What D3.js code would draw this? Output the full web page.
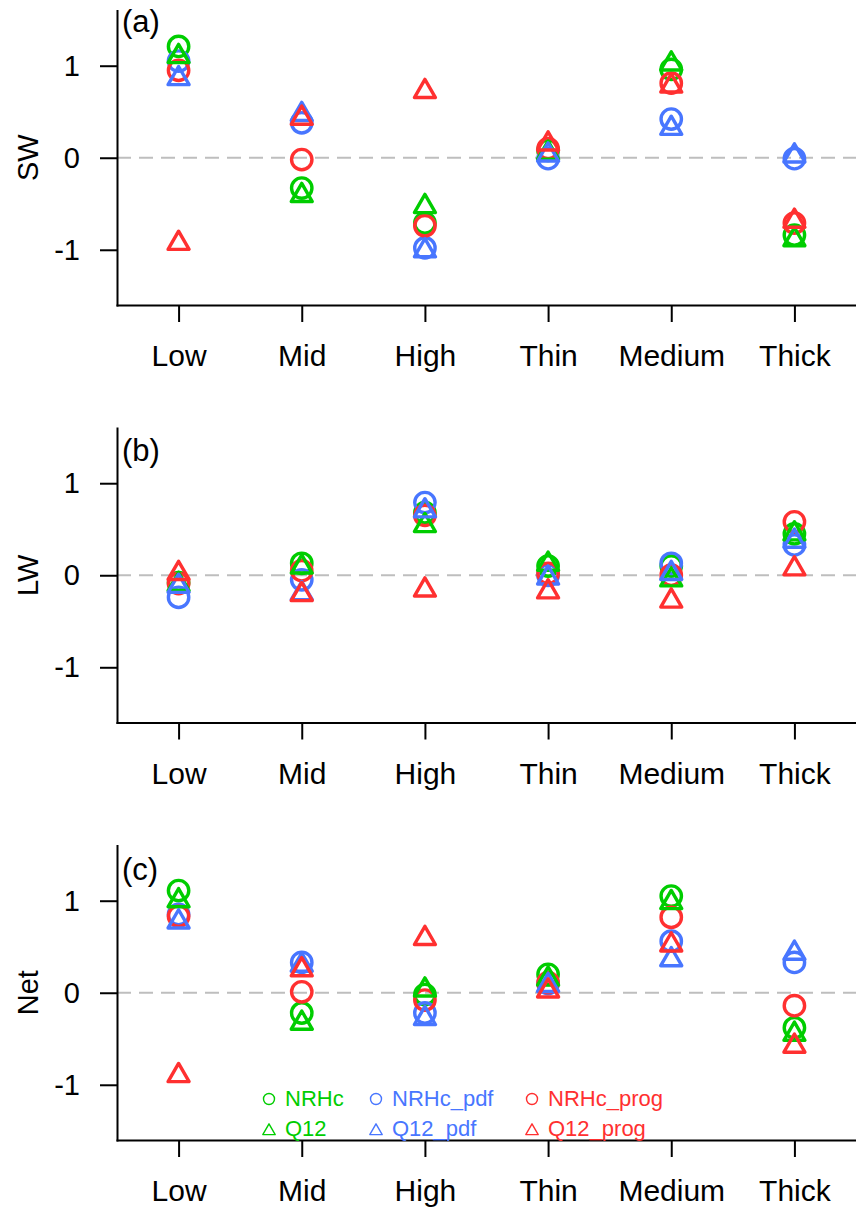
<!DOCTYPE html>
<html>
<head>
<meta charset="utf-8">
<script src="https://cdn.jsdelivr.net/npm/d3@7/dist/d3.min.js"></script>
<style>
  body { margin: 0; background: #fff; }
  svg { display: block; font-family: "Liberation Sans", Arial, Helvetica, sans-serif; }
</style>
</head>
<body>
<svg id="chart" width="856" height="1208"></svg>
<script>
// categories on x
var categories = ["Low", "Mid", "High", "Thin", "Medium", "Thick"];
var yTicks = [-1, 0, 1];
var panelNames = ["SW", "LW", "Net"];
var panelLetters = ["(a)", "(b)", "(c)"];

var seriesNames = ["NRHc", "Q12", "NRHc_pdf", "Q12_pdf", "NRHc_prog", "Q12_prog"];
var seriesColors = ["#00cd00", "#00cd00", "#4876ff", "#4876ff", "#ff3030", "#ff3030"];
var seriesShapes = ["circle", "triangle", "circle", "triangle", "circle", "triangle"];

// SW
var swNRHc      = [1.21, -0.33, -0.71, 0.08, 0.96, -0.84];
var swQ12       = [1.10, -0.41, -0.53, 0.05, 1.02, -0.89];
var swNRHcPdf   = [1.05, 0.38, -0.98, -0.01, 0.42, -0.01];
var swQ12Pdf    = [0.86, 0.47, -1.01, 0.03, 0.32, 0.02];
var swNRHcProg  = [0.95, -0.02, -0.74, 0.10, 0.81, -0.71];
var swQ12Prog   = [-0.93, 0.43, 0.72, 0.15, 0.78, -0.69];
// LW
var lwNRHc      = [-0.08, 0.13, 0.68, 0.10, 0.10, 0.45];
var lwQ12       = [-0.10, 0.09, 0.54, 0.12, -0.05, 0.45];
var lwNRHcPdf   = [-0.24, -0.05, 0.79, 0.00, 0.13, 0.33];
var lwQ12Pdf    = [-0.12, -0.20, 0.70, -0.03, 0.02, 0.37];
var lwNRHcProg  = [-0.09, 0.05, 0.65, 0.02, 0.00, 0.58];
var lwQ12Prog   = [0.02, -0.21, -0.16, -0.18, -0.28, 0.07];
// Net
var netNRHc     = [1.11, -0.22, -0.02, 0.20, 1.05, -0.38];
var netQ12      = [1.00, -0.33, 0.03, 0.15, 0.98, -0.45];
var netNRHcPdf  = [0.85, 0.33, -0.22, 0.10, 0.56, 0.33];
var netQ12Pdf   = [0.77, 0.30, -0.28, 0.08, 0.36, 0.43];
var netNRHcProg = [0.83, 0.01, -0.08, 0.11, 0.82, -0.14];
var netQ12Prog  = [-0.90, 0.25, 0.59, 0.02, 0.52, -0.58];

var panelData = [
  [swNRHc, swQ12, swNRHcPdf, swQ12Pdf, swNRHcProg, swQ12Prog],
  [lwNRHc, lwQ12, lwNRHcPdf, lwQ12Pdf, lwNRHcProg, lwQ12Prog],
  [netNRHc, netQ12, netNRHcPdf, netQ12Pdf, netNRHcProg, netQ12Prog]
];

var svg = d3.select("#chart");
var left = 117, right = 856;
var panelTops = [10.5, 428, 845.5];
var panelH = 294.5;
var labelBase = [31.5, 461, 880];

var x = d3.scaleLinear().domain([0.5, 6.5]).range([left, right]);

function triPath(a){
	// centroid at origin, half width a
	var h = a * Math.sqrt(3);
	return "M0," + (-2*h/3) + "L" + a + "," + (h/3) + "L" + (-a) + "," + (h/3) + "Z";
}

function drawMark(g, shape, cx, cy, color, size, sw){
	if(shape == "circle"){
		g.append("circle").attr("cx", cx).attr("cy", cy).attr("r", size)
			.style("fill", "none").style("stroke", color).style("stroke-width", sw);
	}
	else{
		g.append("path").attr("d", triPath(size))
			.attr("transform", "translate(" + cx + "," + cy + ")")
			.style("fill", "none").style("stroke", color).style("stroke-width", sw)
			.style("stroke-linejoin", "round");
	}
}

// circles first, then triangles
var drawOrder = [0, 2, 4, 1, 3, 5];

panelData.forEach(function(series, p){
	var top = panelTops[p];
	var y = d3.scaleLinear().domain([-1.6, 1.6]).range([top + panelH, top]);
	var g = svg.append("g");

	// zero line
	g.append("line")
		.attr("x1", left).attr("x2", right)
		.attr("y1", y(0)).attr("y2", y(0))
		.style("stroke", "#bebebe").style("stroke-width", 2)
		.style("stroke-dasharray", "14,8");

	var xAxis = d3.axisBottom(x)
		.tickValues([1, 2, 3, 4, 5, 6])
		.tickFormat(function(d){ return categories[d-1]; })
		.tickSize(17).tickSizeOuter(0).tickPadding(23);
	var gx = g.append("g").attr("transform", "translate(0," + (top + panelH) + ")").call(xAxis);
	gx.selectAll("text").style("font-size", "30px").style("fill", "#000");

	var yAxis = d3.axisLeft(y)
		.tickValues(yTicks)
		.tickFormat(function(d){ return String(d); })
		.tickSize(17).tickSizeOuter(0).tickPadding(20);
	var gy = g.append("g").attr("transform", "translate(" + left + ",0)").call(yAxis);
	gy.selectAll("text").style("font-size", "29px").style("fill", "#000");

	[gx, gy].forEach(function(a){
		a.selectAll("path, line").style("stroke", "#000").style("stroke-width", 2);
		a.select(".domain").style("stroke-linecap", "square");
	});

	g.append("text")
		.attr("transform", "translate(38," + y(0) + ") rotate(-90)")
		.attr("text-anchor", "middle")
		.style("font-size", "29px")
		.text(panelNames[p]);

	g.append("text")
		.attr("x", 122).attr("y", labelBase[p])
		.style("font-size", "31px")
		.text(panelLetters[p]);

	drawOrder.forEach(function(s){
		series[s].forEach(function(v, i){
			drawMark(g, seriesShapes[s], x(i+1), y(v), seriesColors[s], seriesShapes[s] == "circle" ? 10.2 : 10.5, 3.4);
		});
	});
});

// legend
var legCols = [269, 376, 532];
var legRows = [1099, 1131];
var legBase = [1106, 1136];
seriesNames.forEach(function(name, s){
	var col = Math.floor(s / 2), row = s % 2;
	var lg = svg.append("g");
	drawMark(lg, seriesShapes[s], legCols[col], legRows[row], seriesColors[s], seriesShapes[s] == "circle" ? 5.5 : 6.2, 1.4);
	lg.append("text")
		.attr("x", legCols[col] + 16).attr("y", legBase[row])
		.style("font-size", "22px")
		.style("fill", seriesColors[s])
		.text(name);
});
</script>
</body>
</html>
